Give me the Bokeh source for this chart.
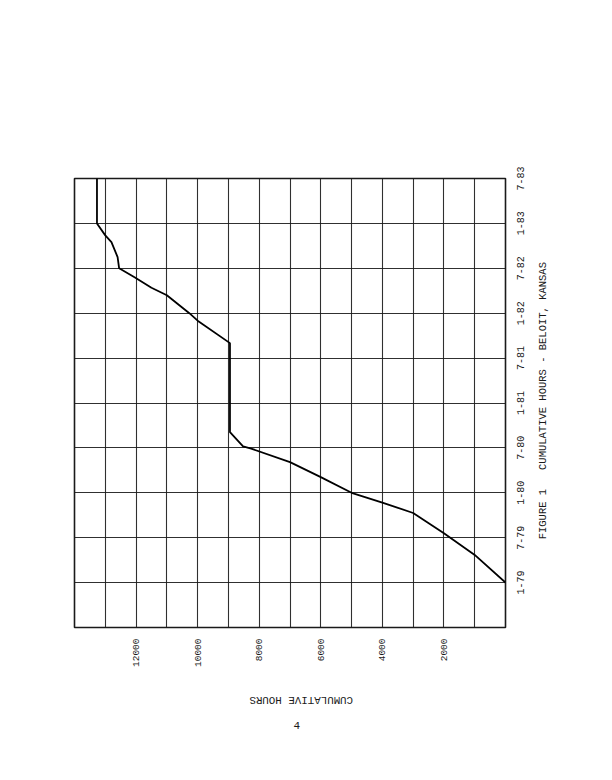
import math
from bokeh.plotting import figure
from bokeh.models import Range1d, FixedTicker, LinearAxis, Title
from bokeh.embed import file_html
from bokeh.resources import INLINE

# Date axis: months since 1-79
date_ticks = [0, 6, 12, 18, 24, 30, 36, 42, 48, 54]
date_labels = ["1-79", "7-79", "1-80", "7-80", "1-81", "7-81", "1-82", "7-82", "1-83", "7-83"]
date_grid = [0, 6, 12, 18, 24, 30, 36, 42, 48]

# Hours axis
hour_ticks = [2000, 4000, 6000, 8000, 10000, 12000]
hour_labels = ["2000", "4000", "6000", "8000", "10000", "12000"]
hour_grid = [1000, 2000, 3000, 4000, 5000, 6000, 7000, 8000, 9000, 10000, 11000, 12000, 13000]

# Cumulative hours series
months = [0, 3.7, 6.6, 9.3, 10.7, 12.0, 14.1, 16.1, 17.9, 18.2, 20.1, 32.0,
          35.0, 36.0, 38.4, 39.4, 40.8, 42.0, 43.5, 45.5, 46.4, 48.0, 54.0]
hours = [0, 1000, 2000, 3000, 4000, 5000, 6000, 7000, 8260, 8525, 8950, 8950,
         10000, 10270, 11000, 11500, 12050, 12550, 12600, 12800, 13000, 13270, 13270]

NB = "\u00a0"
title_text = NB * 14 + "FIGURE 1" + NB * 3 + "CUMULATIVE HOURS - BELOIT, KANSAS"
footer_text = "CUMULATIVE HOURS" + NB * 27
page_text = "4"

FONT = "Liberation Mono"
INK = "#1a1a1a"

# rotated tick labels start at their tick; this shift centres them on it
LABEL_SHIFT = 1.6

p = figure(frame_width=431, frame_height=449,
           min_border_left=74, min_border_top=178,
           min_border_right=60, min_border_bottom=115,
           x_range=Range1d(14000, 0), y_range=Range1d(-6, 54),
           y_axis_location=None,
           toolbar_location=None, output_backend="svg")
p.extra_y_ranges = {"datelab": Range1d(-6 + LABEL_SHIFT, 54 + LABEL_SHIFT)}

p.background_fill_color = "white"
p.border_fill_color = "white"
p.outline_line_color = INK
p.outline_line_width = 1.6


def plain(ax):
    ax.major_tick_in = 0
    ax.major_tick_out = 0
    ax.minor_tick_in = 0
    ax.minor_tick_out = 0
    ax.axis_line_color = None
    ax.major_label_text_font = FONT
    ax.major_label_text_font_size = "10px"
    ax.major_label_text_color = INK
    ax.axis_label_text_font = FONT
    ax.axis_label_text_font_style = "normal"
    ax.axis_label_text_color = INK


# hours axis (bottom)
xa = p.xaxis[0]
plain(xa)
xa.ticker = FixedTicker(ticks=hour_ticks)
xa.major_label_overrides = {t: l for t, l in zip(hour_ticks, hour_labels)}
xa.major_label_orientation = math.pi / 2
xa.major_label_standoff = 11
xa.major_label_text_font_size = "9.5px"

# date axis (right)
ya = LinearAxis(y_range_name="datelab", ticker=FixedTicker(ticks=date_ticks))
plain(ya)
ya.major_label_overrides = {t: l for t, l in zip(date_ticks, date_labels)}
ya.major_label_orientation = math.pi / 2
ya.major_label_standoff = 15
p.add_layout(ya, "right")

# figure caption, as a label-only axis on the right
cap = LinearAxis(ticker=FixedTicker(ticks=[]), axis_label=title_text)
plain(cap)
cap.axis_label_orientation = math.pi / 2
cap.axis_label_align = "start"
cap.axis_label_standoff = 12
cap.axis_label_text_font_size = "10.5px"
p.add_layout(cap, "right")

# upside-down page caption, as a label-only axis below
foot = LinearAxis(ticker=FixedTicker(ticks=[]), axis_label=footer_text)
plain(foot)
foot.axis_label_orientation = math.pi
foot.axis_label_align = "end"
foot.axis_label_standoff = 29
foot.axis_label_text_font_size = "10.8px"
p.add_layout(foot, "below")

# page number
p.add_layout(Title(text=page_text, align="left", offset=219, standoff=10,
                   text_font=FONT, text_font_size="11px",
                   text_font_style="normal", text_color=INK), "below")

p.xgrid.ticker = FixedTicker(ticks=hour_grid)
p.ygrid.ticker = FixedTicker(ticks=date_grid)
for g in (p.xgrid, p.ygrid):
    g.grid_line_color = INK
    g.grid_line_width = 1.1
    g.grid_line_alpha = 0.9

p.line(hours, months, line_color="black", line_width=1.8)

open("out.html", "w").write(file_html(p, INLINE))
